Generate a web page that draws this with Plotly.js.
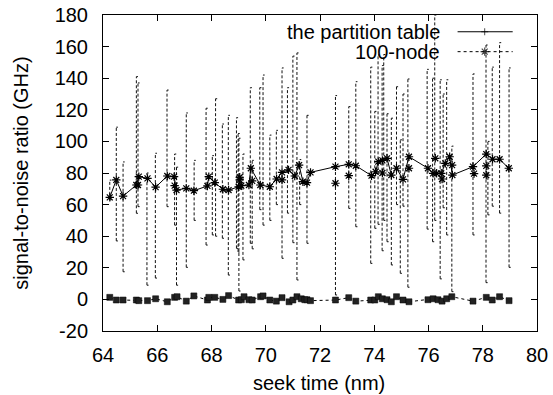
<!DOCTYPE html>
<html>
<head>
<meta charset="utf-8">
<script src="https://cdn.plot.ly/plotly-3.0.1.min.js"></script>
<style>
  html, body { margin: 0; padding: 0; background: #fff; }
  #chart { width: 553px; height: 395px; }
</style>
</head>
<body>
<div id="chart"></div>
<script>
// ---- data ----
var lineX = [64.25,64.49,64.74,65.23,65.32,65.64,65.94,66.37,66.62,66.71,67.07,67.35,67.85,67.9,68.12,68.42,68.63,69.0,69.04,69.1,69.38,69.45,69.8,70.15,70.4,70.6,70.84,71.07,71.23,71.37,71.52,71.65,72.57,73.06,73.32,73.9,74.05,74.15,74.3,74.47,74.63,74.82,75.06,75.28,75.98,76.17,76.3,76.47,76.62,76.78,76.88,77.64,78.13,78.36,78.62,78.96];
var lineY = [64.6,75.6,65.4,72.4,77.7,76.6,71,78.1,77.7,69.2,70.3,68.8,71.8,77.7,73.9,69.7,69.2,71.3,75.6,72,72.4,83,72.4,71.3,76.2,80.4,82,78.1,85,74.5,73.9,80.4,84,85.5,84.6,78.3,80.8,87.2,88,89.3,78.7,83,76,90.3,83,79.8,79.8,79.8,86.1,90.3,78.7,84,92,88.7,88.7,83];

var starX = [65.29,66.64,69.04,69.5,70.6,72.57,73.06,74.3,75.28,76.25,76.5,76.87,77.68,78.13,78.13];
var starY = [72.4,72,77.3,75,75.6,73.5,78.3,80,83,89.3,76.2,85,79.6,84.5,78.6];

var errX  = [64.25,64.49,64.74,65.23,65.29,65.62,65.93,66.36,66.64,66.71,67.07,67.36,67.8,68.03,68.15,68.4,68.62,68.92,68.98,69.01,69.16,69.43,69.5,69.78,69.9,70.15,70.39,70.6,70.8,71.0,71.15,71.25,71.52,72.57,73.06,73.32,73.87,74.02,74.14,74.29,74.35,74.47,74.63,74.82,74.96,75.06,75.24,75.95,76.15,76.23,76.43,76.54,76.67,76.86,77.64,78.12,78.19,78.35,78.62,78.97];
var errLo = [63,37,17.5,54.5,58.7,9,13.5,58.7,47,9,20.3,50,34.4,40.8,40,38.7,15.4,32.3,30,5.3,25,35.5,32,56.8,47,50,60,26,54.6,35.9,12.3,60,35.5,2.8,57.6,46,22.8,45,47.5,30.8,50,36.5,21.8,60,16.5,59,7.7,44.5,36.5,50,13,58,40.8,4.9,40.8,10.6,53.5,59,54.6,20.3];
var errHi = [75.5,109,87,141,137,80,92.5,132.5,92,83.7,118,88,121,91,127,111,116.5,115,105,102,92,134,88,134,142,104,107,146.5,134,154,156,88.5,116.5,129,122,137.8,147,119,154.7,148,155,117.5,114.7,134.6,101,130,139.5,145.6,140,180,139,130,139,97,142.7,161,100,147,162.5,146.5];

var sqX = [64.25,64.49,64.74,65.23,65.32,65.64,65.94,66.37,66.64,66.73,67.07,67.35,67.85,67.9,68.12,68.42,68.63,69.0,69.1,69.2,69.38,69.5,69.81,69.9,70.15,70.39,70.6,70.86,71.0,71.15,71.31,71.44,71.52,71.65,72.57,73.06,73.32,73.87,74.02,74.15,74.3,74.47,74.63,74.82,75.06,75.28,75.98,76.17,76.35,76.5,76.67,76.86,77.64,78.13,78.35,78.62,78.97];
var sqY = [1.3,-0.4,-0.4,-0.4,-0.8,-0.8,0.4,-1.5,1.3,1.7,-1.1,2.2,-0.4,1.3,1.3,0,2.4,-0.4,-0.2,1.7,-0.2,-0.4,1.7,2.2,-0.4,-1.1,1.1,-1.5,-0.4,1.7,0.4,-0.2,-0.2,-0.8,-0.4,1.1,-1.1,-0.4,-0.4,1.7,0.4,-0.2,-1.5,1.7,-0.4,-1.5,-0.2,0.4,-0.2,-1.1,0.4,1.7,-1.1,1.3,-0.4,1.7,-0.8];

var xTicks = [64,66,68,70,72,74,76,78,80];
var yTicks = [-20,0,20,40,60,80,100,120,140,160,180];
var seriesNames = ["the partition table", "100-node"];

// ---- build error-bar segments from the arrays ----
var capHalf = 0.06;
var ebX = [], ebY = [];
for (var i = 0; i < errX.length; i++) {
  var x = errX[i], lo = errLo[i], hi = errHi[i];
  ebX.push(x, x, null);            ebY.push(lo, hi, null);
  ebX.push(x, x + capHalf, null);  ebY.push(lo, lo, null);
  ebX.push(x, x + capHalf, null);  ebY.push(hi, hi, null);
}

var FONT = "Liberation Sans, Arial, Helvetica, sans-serif";
var STAR = { symbol: "asterisk-open", size: 7, color: "#000", line: { color: "#000", width: 1.2 } };

var traces = [
  { x: ebX, y: ebY, mode: "lines", type: "scatter", showlegend: false, hoverinfo: "skip",
    line: { color: "#111", width: 1, dash: "3px,2px" } },
  { x: sqX, y: sqY, mode: "lines+markers", type: "scatter", showlegend: false,
    line: { color: "#000", width: 1, dash: "dot" },
    marker: { symbol: "square", size: 6, color: "#222", line: { color: "#000", width: 0.5 } } },
  { x: starX, y: starY, mode: "markers", type: "scatter", showlegend: false, marker: STAR },
  { x: lineX, y: lineY, mode: "lines+markers", type: "scatter", showlegend: false,
    line: { color: "#000", width: 1 }, marker: STAR },
  // legend samples (decoration on a hidden 0..1 overlay axis)
  { x: [0.817, 0.8795, 0.944], y: [0.947, 0.947, 0.947], xaxis: "x2", yaxis: "y2",
    mode: "lines+markers", showlegend: false, hoverinfo: "skip",
    line: { color: "#000", width: 1 },
    marker: { symbol: "cross-thin-open", size: [0, 5, 0], color: "#000", line: { color: "#000", width: 1 } } },
  { x: [0.817, 0.8795, 0.944], y: [0.884, 0.884, 0.884], xaxis: "x2", yaxis: "y2",
    mode: "lines+markers", showlegend: false, hoverinfo: "skip",
    line: { color: "#000", width: 1, dash: "dot" },
    marker: { symbol: "asterisk-open", size: [0, 7, 0], color: "#000", line: { color: "#000", width: 1.2 } } }
];

var layout = {
  width: 553, height: 395,
  margin: { l: 103, r: 16, t: 15, b: 64 },
  paper_bgcolor: "#fff", plot_bgcolor: "#fff",
  font: { family: FONT, size: 20, color: "#000" },
  showlegend: false,
  xaxis: {
    range: [64, 80], tickvals: xTicks, ticktext: xTicks.map(String),
    ticks: "inside", ticklen: 6, tickcolor: "#000", tickwidth: 1,
    showline: true, linecolor: "#000", linewidth: 1, mirror: "ticks",
    showgrid: false, zeroline: false, ticklabelstandoff: 6,
    tickfont: { family: FONT, size: 20, color: "#000" }
  },
  yaxis: {
    range: [-20, 180], tickvals: yTicks, ticktext: yTicks.map(String),
    ticks: "inside", ticklen: 6, tickcolor: "#000", tickwidth: 1,
    showline: true, linecolor: "#000", linewidth: 1, mirror: "ticks",
    showgrid: false, zeroline: false, ticklabelstandoff: 10,
    tickfont: { family: FONT, size: 20, color: "#000" }
  },
  xaxis2: { overlaying: "x", range: [0, 1], visible: false, fixedrange: true },
  yaxis2: { overlaying: "y", range: [0, 1], visible: false, fixedrange: true },
  annotations: [
    { text: "signal-to-noise ratio (GHz)", xref: "paper", yref: "paper",
      x: -0.1896, y: 0.5, xanchor: "center", yanchor: "middle", textangle: -90,
      showarrow: false, font: { family: FONT, size: 20, color: "#000" } },
    { text: "seek time (nm)", xref: "paper", yref: "paper",
      x: 0.4986, y: -0.1646, xanchor: "center", yanchor: "middle",
      showarrow: false, font: { family: FONT, size: 20, color: "#000" } },
    { text: seriesNames[0], xref: "paper", yref: "paper",
      x: 0.782, y: 0.947, xanchor: "right", yanchor: "middle",
      showarrow: false, font: { family: FONT, size: 20, color: "#000" } },
    { text: seriesNames[1], xref: "paper", yref: "paper",
      x: 0.782, y: 0.884, xanchor: "right", yanchor: "middle",
      showarrow: false, font: { family: FONT, size: 20, color: "#000" } }
  ]
};

Plotly.newPlot("chart", traces, layout, { displayModeBar: false, staticPlot: true });
</script>
</body>
</html>
